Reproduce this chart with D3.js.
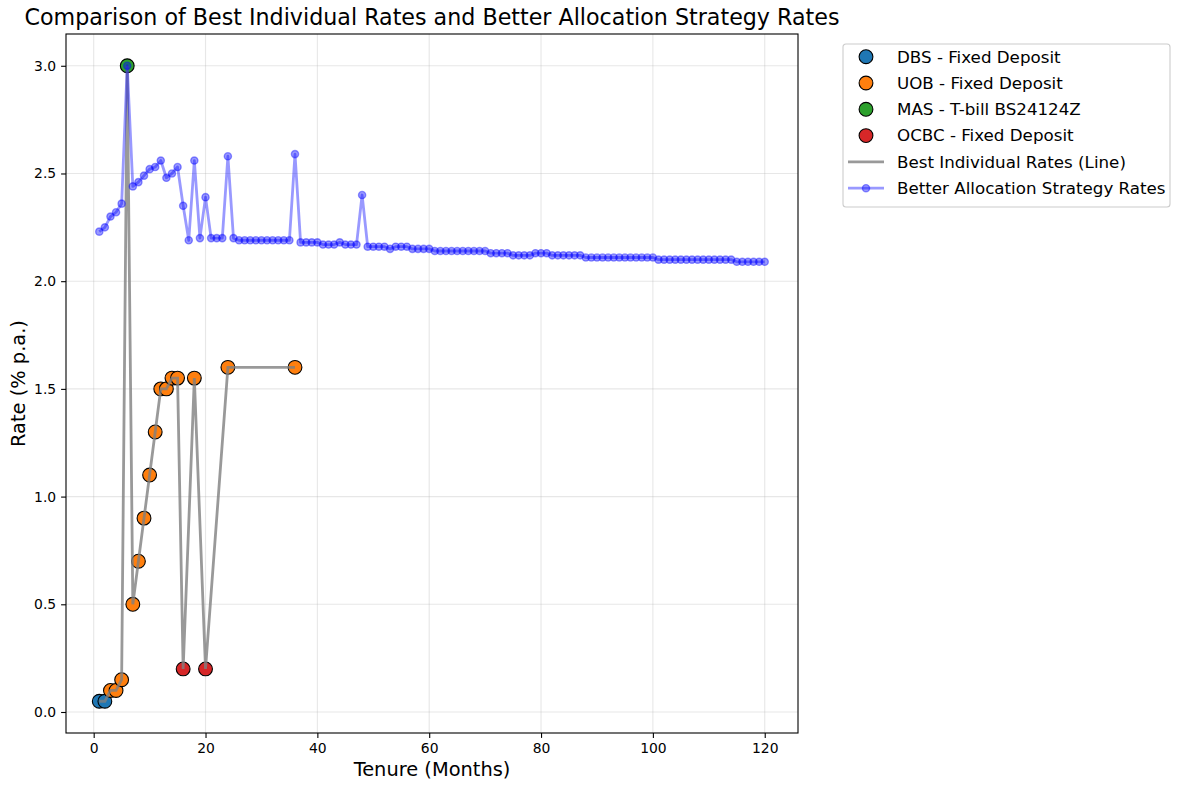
<!DOCTYPE html>
<html>
<head>
<meta charset="utf-8">
<script src="https://cdn.jsdelivr.net/npm/d3@7"></script>
<style>
  body { margin: 0; background: #fff; }
  svg { font-family: "DejaVu Sans", sans-serif; }
</style>
</head>
<body>
<div id="chart"></div>
<script>
// best individual rate per tenure (months)
const bestTenure = [1, 2, 3, 4, 5, 6, 7, 8, 9, 10, 11, 12, 13, 14, 15, 16, 18, 20, 24, 36];
const bestRate = [0.05, 0.05, 0.10, 0.10, 0.15, 3.00, 0.50, 0.70, 0.90, 1.10, 1.30, 1.50, 1.50, 1.55, 1.55, 0.20, 1.55, 0.20, 1.60, 1.60];
const bestProvider = ["DBS - Fixed Deposit", "DBS - Fixed Deposit", "UOB - Fixed Deposit", "UOB - Fixed Deposit",
  "UOB - Fixed Deposit", "MAS - T-bill BS24124Z", "UOB - Fixed Deposit", "UOB - Fixed Deposit", "UOB - Fixed Deposit",
  "UOB - Fixed Deposit", "UOB - Fixed Deposit", "UOB - Fixed Deposit", "UOB - Fixed Deposit", "UOB - Fixed Deposit",
  "UOB - Fixed Deposit", "OCBC - Fixed Deposit", "UOB - Fixed Deposit", "OCBC - Fixed Deposit", "UOB - Fixed Deposit",
  "UOB - Fixed Deposit"];

const providers = ["DBS - Fixed Deposit", "UOB - Fixed Deposit", "MAS - T-bill BS24124Z", "OCBC - Fixed Deposit"];
const providerColors = ["#1f77b4", "#ff7f0e", "#2ca02c", "#d62728"];

// allocation strategy rate for tenures 1..120
const strategyTenure = d3.range(1, 121);
const strategyRate = [
  2.23, 2.25, 2.30, 2.32, 2.36, 3.00, 2.44, 2.46, 2.49, 2.52,
  2.53, 2.56, 2.48, 2.50, 2.53, 2.35, 2.19, 2.56, 2.20, 2.39,
  2.20, 2.20, 2.20, 2.58, 2.20, 2.19, 2.19, 2.19, 2.19, 2.19,
  2.19, 2.19, 2.19, 2.19, 2.19, 2.59, 2.18, 2.18, 2.18, 2.18,
  2.17, 2.17, 2.17, 2.18, 2.17, 2.17, 2.17, 2.40, 2.16, 2.16,
  2.16, 2.16, 2.15, 2.16, 2.16, 2.16, 2.15, 2.15, 2.15, 2.15,
  2.14, 2.14, 2.14, 2.14, 2.14, 2.14, 2.14, 2.14, 2.14, 2.14,
  2.13, 2.13, 2.13, 2.13, 2.12, 2.12, 2.12, 2.12, 2.13, 2.13,
  2.13, 2.12, 2.12, 2.12, 2.12, 2.12, 2.12, 2.11, 2.11, 2.11,
  2.11, 2.11, 2.11, 2.11, 2.11, 2.11, 2.11, 2.11, 2.11, 2.11,
  2.10, 2.10, 2.10, 2.10, 2.10, 2.10, 2.10, 2.10, 2.10, 2.10,
  2.10, 2.10, 2.10, 2.10, 2.09, 2.09, 2.09, 2.09, 2.09, 2.09
];

const xTicks = [0, 20, 40, 60, 80, 100, 120];
const yTicks = [0, 0.5, 1.0, 1.5, 2.0, 2.5, 3.0];

const margin = { top: 34, right: 382, bottom: 57, left: 66 };
const totalW = 1180, totalH = 790;
const width = totalW - margin.left - margin.right;
const height = totalH - margin.top - margin.bottom;

const svg = d3.select("#chart").append("svg")
  .attr("width", totalW)
  .attr("height", totalH);

const g = svg.append("g").attr("transform", `translate(${margin.left},${margin.top})`);

// matplotlib-like 5% padding on data limits
const xPad = (120 - 1) * 0.05;
const yPad = (3.0 - 0.05) * 0.05;
const x = d3.scaleLinear().domain([1 - xPad, 120 + xPad]).range([0, width]);
const y = d3.scaleLinear().domain([0.05 - yPad, 3.0 + yPad]).range([height, 0]);

// grid
g.append("g").selectAll("line").data(xTicks).join("line")
  .attr("x1", d => x(d)).attr("x2", d => x(d))
  .attr("y1", 0).attr("y2", height)
  .attr("stroke", "#b0b0b0").attr("stroke-opacity", 0.3).attr("stroke-width", 1.1);
g.append("g").selectAll("line").data(yTicks).join("line")
  .attr("y1", d => y(d)).attr("y2", d => y(d))
  .attr("x1", 0).attr("x2", width)
  .attr("stroke", "#b0b0b0").attr("stroke-opacity", 0.3).attr("stroke-width", 1.1);

// axes
const xAxis = g.append("g")
  .attr("transform", `translate(0,${height})`)
  .call(d3.axisBottom(x).tickValues(xTicks).tickFormat(d3.format("d")).tickSize(4.9).tickPadding(4.9));
const yAxis = g.append("g")
  .call(d3.axisLeft(y).tickValues(yTicks).tickFormat(d3.format(".1f")).tickSize(4.9).tickPadding(4.9));
[xAxis, yAxis].forEach(a => {
  a.select(".domain").remove();
  a.selectAll("text").attr("font-size", 13.9).attr("fill", "#000").attr("font-family", "DejaVu Sans");
  a.selectAll("line").attr("stroke", "#000").attr("stroke-width", 1.1);
});

const best = bestTenure.map((t, i) => ({ t, r: bestRate[i], p: bestProvider[i] }));
const strategy = strategyTenure.map((t, i) => ({ t, r: strategyRate[i] }));

// scatter of best individual rates
g.append("g").selectAll("circle").data(best).join("circle")
  .attr("cx", d => x(d.t)).attr("cy", d => y(d.r)).attr("r", 6.9)
  .attr("fill", d => providerColors[providers.indexOf(d.p)])
  .attr("stroke", "#000").attr("stroke-width", 1.1);

// best individual line
g.append("path").datum(best)
  .attr("d", d3.line().x(d => x(d.t)).y(d => y(d.r)))
  .attr("fill", "none").attr("stroke", "gray").attr("stroke-opacity", 0.8)
  .attr("stroke-width", 2.8);

// strategy line + markers
g.append("path").datum(strategy)
  .attr("d", d3.line().x(d => x(d.t)).y(d => y(d.r)))
  .attr("fill", "none").attr("stroke", "blue").attr("stroke-opacity", 0.4)
  .attr("stroke-width", 2.8).attr("stroke-linejoin", "round");
g.append("g").selectAll("circle").data(strategy).join("circle")
  .attr("cx", d => x(d.t)).attr("cy", d => y(d.r)).attr("r", 3.6)
  .attr("fill", "blue").attr("fill-opacity", 0.4)
  .attr("stroke", "blue").attr("stroke-opacity", 0.4).attr("stroke-width", 1.4);

// frame
g.append("rect").attr("width", width).attr("height", height)
  .attr("fill", "none").attr("stroke", "#000").attr("stroke-width", 1.1);

// titles
svg.append("text")
  .attr("x", margin.left + width / 2).attr("y", 25)
  .attr("text-anchor", "middle").attr("font-size", 22.2)
  .text("Comparison of Best Individual Rates and Better Allocation Strategy Rates");
svg.append("text")
  .attr("x", margin.left + width / 2).attr("y", 776)
  .attr("text-anchor", "middle").attr("font-size", 19.4)
  .text("Tenure (Months)");
svg.append("text")
  .attr("transform", `translate(25,${margin.top + height / 2}) rotate(-90)`)
  .attr("text-anchor", "middle").attr("font-size", 19.4)
  .text("Rate (% p.a.)");

// legend
const legend = svg.append("g").attr("transform", "translate(843,44)");
legend.append("rect")
  .attr("width", 327).attr("height", 163).attr("rx", 3)
  .attr("fill", "#fff").attr("fill-opacity", 0.8)
  .attr("stroke", "#cccccc").attr("stroke-width", 1.1);

const rowY = i => 12.7 + i * 26.3;
providers.forEach((p, i) => {
  legend.append("circle")
    .attr("cx", 23).attr("cy", rowY(i)).attr("r", 6.9)
    .attr("fill", providerColors[i]).attr("stroke", "#000").attr("stroke-width", 1.1);
  legend.append("text")
    .attr("x", 54).attr("y", rowY(i)).attr("dy", "0.35em")
    .attr("font-size", 16.7).text(p);
});
legend.append("line")
  .attr("x1", 5).attr("x2", 41).attr("y1", rowY(4)).attr("y2", rowY(4))
  .attr("stroke", "gray").attr("stroke-opacity", 0.8).attr("stroke-width", 2.8);
legend.append("text")
  .attr("x", 54).attr("y", rowY(4)).attr("dy", "0.35em")
  .attr("font-size", 16.7).text("Best Individual Rates (Line)");
legend.append("line")
  .attr("x1", 5).attr("x2", 41).attr("y1", rowY(5)).attr("y2", rowY(5))
  .attr("stroke", "blue").attr("stroke-opacity", 0.4).attr("stroke-width", 2.8);
legend.append("circle")
  .attr("cx", 23).attr("cy", rowY(5)).attr("r", 3.6)
  .attr("fill", "blue").attr("fill-opacity", 0.4)
  .attr("stroke", "blue").attr("stroke-opacity", 0.4).attr("stroke-width", 1.4);
legend.append("text")
  .attr("x", 54).attr("y", rowY(5)).attr("dy", "0.35em")
  .attr("font-size", 16.7).text("Better Allocation Strategy Rates");
</script>
</body>
</html>
